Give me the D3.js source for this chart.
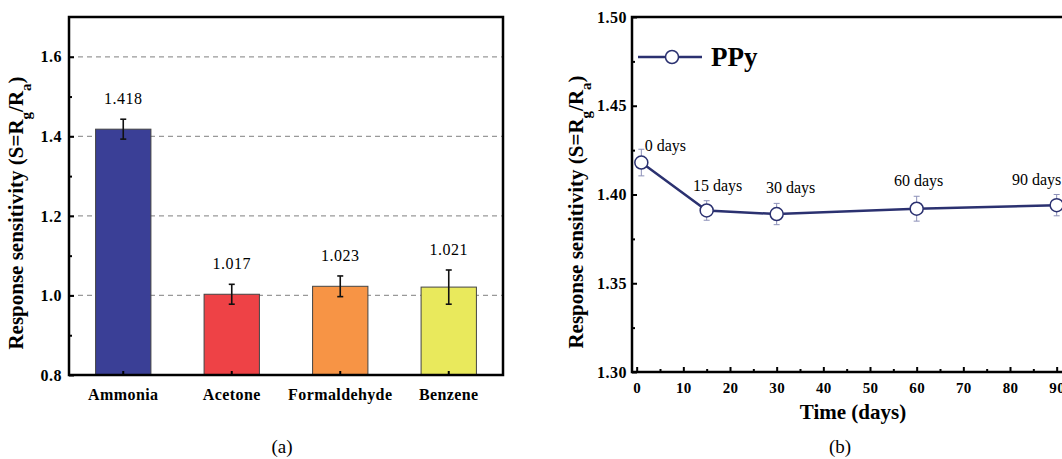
<!DOCTYPE html>
<html>
<head>
<meta charset="utf-8">
<script src="https://cdn.jsdelivr.net/npm/d3@7/dist/d3.min.js"></script>
<style>
  body { margin: 0; background: #fff; }
  text { font-family: "Liberation Serif", "Times New Roman", serif; }
</style>
</head>
<body>
<script>
// (a) gas selectivity
var gases = ["Ammonia", "Acetone", "Formaldehyde", "Benzene"];
var sensitivity = [1.418, 1.003, 1.023, 1.021];
var sensErr = [0.025, 0.025, 0.026, 0.043];
var sensLabels = ["1.418", "1.017", "1.023", "1.021"];
var barColors = ["#3a3f96", "#ee4246", "#f79445", "#e9e95c"];
var yTicksA = [0.8, 1.0, 1.2, 1.4, 1.6];
var yMinorA = [0.9, 1.1, 1.3, 1.5];
var gridA = [1.0, 1.2, 1.4, 1.6];

// (b) stability
var days = [1, 15, 30, 60, 90];
var ppy = [1.418, 1.391, 1.389, 1.392, 1.394];
var ppyErr = [0.0075, 0.0055, 0.006, 0.007, 0.006];
var dayLabels = ["0 days", "15 days", "30 days", "60 days", "90 days"];
var xTicksB = [0, 10, 20, 30, 40, 50, 60, 70, 80, 90];
var xMinorB = [5, 15, 25, 35, 45, 55, 65, 75, 85];
var yTicksB = [1.30, 1.35, 1.40, 1.45, 1.50];
var yMinorB = [1.325, 1.375, 1.425, 1.475];

var W = 1062, H = 459;
var svg = d3.select("body").append("svg")
  .attr("width", W)
  .attr("height", H);

function styleAxis(g, size, spacing) {
  g.selectAll(".domain").remove();
  g.selectAll(".tick line").attr("stroke", "#000").attr("stroke-width", 2);
  g.selectAll(".tick text")
    .style("font-family", "'Liberation Serif', 'Times New Roman', serif")
    .style("font-weight", "bold")
    .style("font-size", size + "px")
    .style("letter-spacing", (spacing || 0) + "px")
    .attr("fill", "#000");
}

function yTitle(x, y) {
  var t = svg.append("text")
    .attr("transform", "translate(" + x + "," + y + ") rotate(-90)")
    .attr("text-anchor", "middle")
    .style("font-weight", "bold")
    .style("font-size", "21px");
  t.append("tspan").text("Response sensitivity (S=R");
  t.append("tspan").attr("baseline-shift", "sub").style("font-size", "15px").text("g");
  t.append("tspan").text("/R");
  t.append("tspan").attr("baseline-shift", "sub").style("font-size", "15px").text("a");
  t.append("tspan").text(")");
}

// ---------- panel (a) ----------
var xa = d3.scaleBand().domain(gases).range([69, 503]).paddingInner(0.49).paddingOuter(0.245);
var ya = d3.scaleLinear().domain([0.8, 1.7]).range([375, 17]);

svg.append("g").selectAll("line")
  .data(gridA)
  .enter().append("line")
  .attr("x1", 69).attr("x2", 503)
  .attr("y1", function(d) { return ya(d); })
  .attr("y2", function(d) { return ya(d); })
  .attr("stroke", "#999")
  .attr("stroke-width", 1.2)
  .attr("stroke-dasharray", "5,4");

var barData = gases.map(function(g, i) {
  return {name: g, v: sensitivity[i], e: sensErr[i], label: sensLabels[i], color: barColors[i]};
});

svg.selectAll(".bar")
  .data(barData)
  .enter().append("rect")
  .attr("class", "bar")
  .attr("x", function(d) { return xa(d.name); })
  .attr("width", xa.bandwidth())
  .attr("y", function(d) { return ya(d.v); })
  .attr("height", function(d) { return ya(0.8) - ya(d.v); })
  .attr("fill", function(d) { return d.color; })
  .attr("stroke", "#444")
  .attr("stroke-width", 1);

var errA = svg.append("g").attr("stroke", "#111").attr("stroke-width", 1.6);
barData.forEach(function(d) {
  var cx = xa(d.name) + xa.bandwidth() / 2;
  errA.append("line").attr("x1", cx).attr("x2", cx).attr("y1", ya(d.v + d.e)).attr("y2", ya(d.v - d.e));
  errA.append("line").attr("x1", cx - 3).attr("x2", cx + 3).attr("y1", ya(d.v + d.e)).attr("y2", ya(d.v + d.e));
  errA.append("line").attr("x1", cx - 3).attr("x2", cx + 3).attr("y1", ya(d.v - d.e)).attr("y2", ya(d.v - d.e));
});

svg.selectAll(".vlabel")
  .data(barData)
  .enter().append("text")
  .attr("class", "vlabel")
  .attr("x", function(d) { return xa(d.name) + xa.bandwidth() / 2; })
  .attr("y", function(d) { return ya(d.v + d.e) - 15; })
  .attr("text-anchor", "middle")
  .style("font-size", "16px")
  .style("letter-spacing", "0.5px")
  .text(function(d) { return d.label; });

var gyA = svg.append("g").attr("transform", "translate(69,0)")
  .call(d3.axisLeft(ya).tickValues(yTicksA).tickFormat(d3.format(".1f")).tickSize(-5).tickPadding(7));
styleAxis(gyA, 16, 0.5);
var gyAm = svg.append("g").attr("transform", "translate(69,0)")
  .call(d3.axisLeft(ya).tickValues(yMinorA).tickFormat("").tickSize(-3));
styleAxis(gyAm, 16);

var gxA = svg.append("g").attr("transform", "translate(0,375)")
  .call(d3.axisBottom(xa).tickSize(-4).tickPadding(14));
styleAxis(gxA, 16, 0.4);

svg.append("rect")
  .attr("x", 69).attr("y", 17).attr("width", 434).attr("height", 358)
  .attr("fill", "none").attr("stroke", "#000").attr("stroke-width", 2.5);

yTitle(23, 213);

svg.append("text").attr("x", 282).attr("y", 453).attr("text-anchor", "middle")
  .style("font-size", "19px").text("(a)");

// ---------- panel (b) ----------
var xb = d3.scaleLinear().domain([-1, 95]).range([632, 1080]);
var yb = d3.scaleLinear().domain([1.30, 1.50]).range([372, 17]);

var gxB = svg.append("g").attr("transform", "translate(0,372)")
  .call(d3.axisBottom(xb).tickValues(xTicksB).tickSize(-5).tickPadding(10));
styleAxis(gxB, 15, 0.3);
var gxBm = svg.append("g").attr("transform", "translate(0,372)")
  .call(d3.axisBottom(xb).tickValues(xMinorB).tickFormat("").tickSize(-3));
styleAxis(gxBm, 15);

var gyB = svg.append("g").attr("transform", "translate(632,0)")
  .call(d3.axisLeft(yb).tickValues(yTicksB).tickFormat(d3.format(".2f")).tickSize(-5).tickPadding(5));
styleAxis(gyB, 16, 0.5);
var gyBm = svg.append("g").attr("transform", "translate(632,0)")
  .call(d3.axisLeft(yb).tickValues(yMinorB).tickFormat("").tickSize(-3));
styleAxis(gyBm, 16);

svg.append("rect")
  .attr("x", 632).attr("y", 17).attr("width", xb(95) - 632).attr("height", 355)
  .attr("fill", "none").attr("stroke", "#000").attr("stroke-width", 2.5);

var lineData = days.map(function(d, i) {
  return {x: d, y: ppy[i], e: ppyErr[i], label: dayLabels[i]};
});

var errB = svg.append("g").attr("stroke", "#8c90b8").attr("stroke-width", 1);
lineData.forEach(function(d) {
  var cx = xb(d.x);
  errB.append("line").attr("x1", cx).attr("x2", cx).attr("y1", yb(d.y + d.e)).attr("y2", yb(d.y - d.e));
  errB.append("line").attr("x1", cx - 3).attr("x2", cx + 3).attr("y1", yb(d.y + d.e)).attr("y2", yb(d.y + d.e));
  errB.append("line").attr("x1", cx - 3).attr("x2", cx + 3).attr("y1", yb(d.y - d.e)).attr("y2", yb(d.y - d.e));
});

var navy = "#2b3170";
svg.append("path")
  .datum(lineData)
  .attr("fill", "none")
  .attr("stroke", navy)
  .attr("stroke-width", 2.5)
  .attr("d", d3.line().x(function(d) { return xb(d.x); }).y(function(d) { return yb(d.y); }));

svg.selectAll(".pt")
  .data(lineData)
  .enter().append("circle")
  .attr("class", "pt")
  .attr("cx", function(d) { return xb(d.x); })
  .attr("cy", function(d) { return yb(d.y); })
  .attr("r", 6.5)
  .attr("fill", "#fff")
  .attr("stroke", navy)
  .attr("stroke-width", 1.5);

// label nudges (px) so text sits like the original
var nudge = [[24, -17], [11, -25], [14, -27], [2, -28], [-20, -26]];
svg.selectAll(".dlabel")
  .data(lineData)
  .enter().append("text")
  .attr("class", "dlabel")
  .attr("x", function(d, i) { return xb(d.x) + nudge[i][0]; })
  .attr("y", function(d, i) { return yb(d.y) + nudge[i][1]; })
  .attr("dy", "0.35em")
  .attr("text-anchor", "middle")
  .style("font-size", "16px")
  .text(function(d) { return d.label; });

// legend
svg.append("line").attr("x1", 638).attr("x2", 702).attr("y1", 57).attr("y2", 57)
  .attr("stroke", navy).attr("stroke-width", 2.5);
svg.append("circle").attr("cx", 672).attr("cy", 57).attr("r", 6.5)
  .attr("fill", "#fff").attr("stroke", navy).attr("stroke-width", 1.5);
svg.append("text").attr("x", 711).attr("y", 57).attr("dy", "0.35em")
  .style("font-weight", "bold").style("font-size", "27px").text("PPy");

yTitle(583, 212);

svg.append("text").attr("x", 853).attr("y", 412).attr("dy", "0.35em").attr("text-anchor", "middle")
  .style("font-weight", "bold").style("font-size", "21px").text("Time (days)");

svg.append("text").attr("x", 840).attr("y", 453).attr("text-anchor", "middle")
  .style("font-size", "19px").text("(b)");
</script>
</body>
</html>
